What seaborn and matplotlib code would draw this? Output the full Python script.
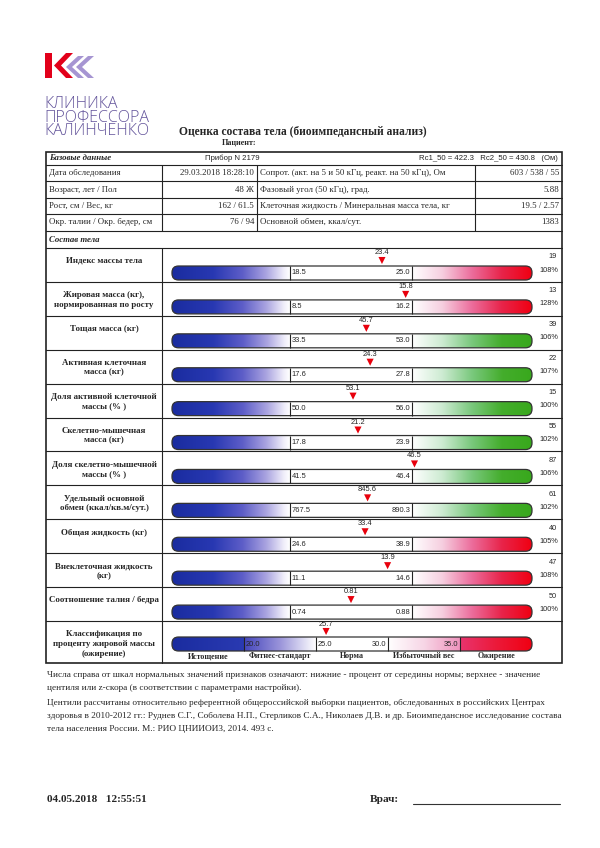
import numpy as np
import matplotlib.pyplot as plt
import seaborn as sns
from matplotlib.colors import LinearSegmentedColormap
from matplotlib.patches import FancyBboxPatch, Polygon, Rectangle

sns.set_theme(style="white")
plt.rcParams['font.family'] = ['Liberation Serif', 'DejaVu Serif']
SANS = ['Liberation Sans', 'DejaVu Sans']

# --- base data table ---
base_left = ["Дата обследования", "Возраст, лет / Пол", "Рост, см / Вес, кг",
             "Окр. талии / Окр. бедер, см"]
base_left_vals = ["29.03.2018 18:28:10", "48 Ж", "162 / 61.5", "76 / 94"]
base_right = ["Сопрот. (акт. на 5 и 50 кГц, реакт. на 50 кГц), Ом",
              "Фазовый угол (50 кГц), град.",
              "Клеточная жидкость / Минеральная масса тела, кг",
              "Основной обмен, ккал/сут."]
base_right_vals = ["603 / 538 / 55", "5.88", "19.5 / 2.57", "1383"]

# --- body composition scales ---
labels = ["Индекс массы тела",
          "Жировая масса (кг),\nнормированная по росту",
          "Тощая масса (кг)",
          "Активная клеточная\nмасса (кг)",
          "Доля активной клеточной\nмассы (% )",
          "Скелетно-мышечная\nмасса (кг)",
          "Доля скелетно-мышечной\nмассы (% )",
          "Удельный основной\nобмен (ккал/кв.м/сут.)",
          "Общая жидкость (кг)",
          "Внеклеточная жидкость\n(кг)",
          "Соотношение талия / бедра"]
values = [23.4, 15.8, 45.7, 24.3, 53.1, 21.2, 46.5, 845.6, 33.4, 13.9, 0.81]
low = [18.5, 8.5, 33.5, 17.6, 50.0, 17.8, 41.5, 767.5, 24.6, 11.1, 0.74]
high = [25.0, 16.2, 53.0, 27.8, 56.0, 23.9, 46.4, 890.3, 38.9, 14.6, 0.88]
decimals = [1, 1, 1, 1, 1, 1, 1, 1, 1, 1, 2]
centile = [19, 13, 39, 22, 15, 55, 87, 61, 40, 47, 50]
percent = [108, 128, 106, 107, 100, 102, 106, 102, 105, 108, 100]
upper_kind = ["red", "red", "green", "green", "green", "green", "green",
              "green", "red", "red", "red"]

# --- fat percentage classification ---
fat_value = 25.7
fat_bounds = [20.0, 25.0, 30.0, 35.0]
fat_classes = ["Истощение", "Фитнес-стандарт", "Норма", "Избыточный вес", "Ожирение"]

cm_blue = LinearSegmentedColormap.from_list(
    "b", [(0, "#1a2c9f"), (0.35, "#2838b2"), (0.6, "#5e5ec8"), (0.8, "#aaa4e0"),
          (0.95, "#f0eefa"), (1, "#ffffff")])
cm_red = LinearSegmentedColormap.from_list(
    "r", ["#ffffff", "#f6cfe0", "#ec6d9c", "#e8244a", "#f00012"])
cm_green = LinearSegmentedColormap.from_list(
    "g", ["#ffffff", "#cdebd2", "#79c87c", "#44ad2c", "#38a81c"])
cmaps = {"red": cm_red, "green": cm_green}
grad = np.linspace(0, 1, 256)[None, :]

W, H = 600, 848
fig = plt.figure(figsize=(6, 8.48), dpi=100)
page = fig.add_axes([0, 0, 1, 1])
page.set_xlim(0, W)
page.set_ylim(H, 0)
page.axis('off')


def px_axes(x0, y0, x1, y1):
    a = fig.add_axes([x0 / W, 1 - y1 / H, (x1 - x0) / W, (y1 - y0) / H])
    a.axis('off')
    return a


# logo
page.add_patch(Rectangle((45, 53), 7, 25, color="#e2001a", lw=0))
def chevron(xt, w, t, y0, y1, c):
    yc = (y0 + y1) / 2
    page.add_patch(Polygon([(xt, yc), (xt + w, y0), (xt + w + t, y0), (xt + t, yc),
                            (xt + w + t, y1), (xt + w, y1)], closed=True, color=c, lw=0))
chevron(54, 12, 7, 53, 78, "#e2001a")
chevron(66, 12, 6, 56, 78, "#a695d2")
chevron(76, 12, 6, 56, 78, "#a695d2")
page.text(44, 96, "КЛИНИКА\nПРОФЕССОРА\nКАЛИНЧЕНКО", family=['Open Sans', 'DejaVu Sans'],
          weight='light', size=11.5, color="#62539a", va='top', ha='left',
          linespacing=0.8)

page.text(303, 131, "Оценка состава тела (биоимпедансный анализ)", ha='center',
          va='center', weight='bold', size=8.3)
page.text(222, 143, "Пациент:", ha='left', va='center', weight='bold', size=5.8)

# table frame
L, R = 46, 562
TOP, BOT = 152, 663
hdr = [152, 165, 181, 198, 214, 231, 248]
ROW_H = (621 - 248) / 11
page.add_patch(Rectangle((L, TOP), R - L, BOT - TOP, fc='none', ec='#222', lw=1.2))
for y in hdr[1:]:
    page.plot([L, R], [y, y], color='#222', lw=0.8)
for i in range(1, 12):
    y = 248 + i * ROW_H
    page.plot([L, R], [y, y], color='#222', lw=0.8)
page.plot([162, 162], [165, 231], color='#222', lw=0.8)
page.plot([162, 162], [248, BOT], color='#222', lw=0.8)
page.plot([257, 257], [165, 231], color='#222', lw=0.8)
page.plot([475, 475], [165, 231], color='#222', lw=0.8)

page.text(49, 158.5, "Базовые данные", weight='bold', style='italic', size=6.3, va='center')
page.text(205, 158.5, "Прибор N 2179", family=SANS, size=5.6, va='center')
page.text(558, 158.5, "Rc1_50 = 422.3   Rc2_50 = 430.8   (Ом)", family=SANS, size=5.6,
          va='center', ha='right')
for j in range(4):
    yc = (hdr[j + 1] + hdr[j + 2]) / 2
    page.text(49, yc, base_left[j], size=6.3, va='center')
    page.text(254, yc, base_left_vals[j], size=6.3, va='center', ha='right')
    page.text(260, yc, base_right[j], size=6.3, va='center')
    page.text(559, yc, base_right_vals[j], size=6.3, va='center', ha='right')
page.text(49, 239.5, "Состав тела", weight='bold', style='italic', size=6.3, va='center')

# scale rows
BX0, BX1, MID0, MID1 = 172, 532, 290, 412
for i, lab in enumerate(labels):
    top = 248 + i * ROW_H
    ly = top + (18 if "\n" in lab else 12.5)
    page.text(104, ly, lab, ha='center', va='center', weight='bold', size=6.4,
              linespacing=1.3)
    page.text(557, top + 9, str(centile[i]), family=SANS, size=5.3, ha='right', va='center')
    page.text(558, top + 22, f"{percent[i]}%", family=SANS, size=5.3, ha='right', va='center')

    ax = px_axes(BX0, top, BX1, top + ROW_H)
    span = high[i] - low[i]
    k = span / (MID1 - MID0)
    xmin = low[i] - (MID0 - BX0) * k
    xmax = high[i] + (BX1 - MID1) * k
    shape = FancyBboxPatch((xmin, 18), xmax - xmin, 14,
                           boxstyle=f"round,pad=0,rounding_size={6.5 * k}",
                           mutation_aspect=1 / k, fc='none', ec='#333', lw=0.9,
                           zorder=5, clip_on=False)
    ax.add_patch(shape)
    im1 = ax.imshow(grad, cmap=cm_blue, extent=[xmin, low[i], 32, 18], aspect='auto', zorder=1)
    im1.set_clip_path(shape)
    im2 = ax.imshow(grad, cmap=cmaps[upper_kind[i]], extent=[high[i], xmax, 32, 18],
                    aspect='auto', zorder=1)
    im2.set_clip_path(shape)
    ax.vlines([low[i], high[i]], 18, 32, color='#222', lw=0.8, zorder=6)
    d = decimals[i]
    ax.text(low[i] + 1.5 * k, 25, f"{low[i]:.{d}f}", family=SANS, size=5.4, va='center')
    ax.text(high[i] - 1.5 * k, 25, f"{high[i]:.{d}f}", family=SANS, size=5.4, va='center',
            ha='right')
    sns.scatterplot(x=[values[i]], y=[12.5], marker='v', s=26, color='#e8000c',
                    edgecolor='none', ax=ax, legend=False, zorder=7)
    ax.text(values[i], 4.5, f"{values[i]:.{d}f}", family=SANS, size=5.4, ha='center',
            va='center')
    ax.set_xlim(xmin, xmax)
    ax.set_ylim(ROW_H, 0)
    ax.axis('off')

# fat classification row
top = 248 + 11 * ROW_H
page.text(104, top + 23, "Классификация по\nпроценту жировой массы\n(ожирение)", ha='center',
          va='center', weight='bold', size=6.4, linespacing=1.3)
ax = px_axes(BX0, top, BX1, BOT)
step = fat_bounds[1] - fat_bounds[0]
edges = [fat_bounds[0] - step] + fat_bounds + [fat_bounds[-1] + step]
k = (edges[-1] - edges[0]) / (BX1 - BX0)
shape = FancyBboxPatch((edges[0], 16), edges[-1] - edges[0], 14,
                       boxstyle=f"round,pad=0,rounding_size={6.5 * k}",
                       mutation_aspect=1 / k, fc='none', ec='#333', lw=0.9,
                       zorder=5, clip_on=False)
ax.add_patch(shape)
seg_maps = [LinearSegmentedColormap.from_list("s0", ["#1a2c9f", "#2a3ab2"]),
            LinearSegmentedColormap.from_list("s1", ["#4446bc", "#9a94da", "#ffffff"]),
            LinearSegmentedColormap.from_list("s2", ["#ffffff", "#ffffff"]),
            LinearSegmentedColormap.from_list("s3", ["#ffffff", "#f7d6e6", "#ef93bd"]),
            LinearSegmentedColormap.from_list("s4", ["#e9346e", "#ec1a3a", "#f00012"])]
for j in range(5):
    im = ax.imshow(grad, cmap=seg_maps[j], extent=[edges[j], edges[j + 1], 30, 16],
                   aspect='auto', zorder=1)
    im.set_clip_path(shape)
    ax.text((edges[j] + edges[j + 1]) / 2, 35.5, fat_classes[j], ha='center', va='center',
            weight='bold', size=5.8)
ax.vlines(fat_bounds, 16, 30, color='#222', lw=0.8, zorder=6)
for j, b in enumerate(fat_bounds):
    if j < 2:
        ax.text(b + 0.12, 23, f"{b:.1f}", family=SANS, size=5.4, va='center')
    else:
        ax.text(b - 0.12, 23, f"{b:.1f}", family=SANS, size=5.4, va='center', ha='right')
sns.scatterplot(x=[fat_value], y=[10.5], marker='v', s=26, color='#e8000c',
                edgecolor='none', ax=ax, legend=False, zorder=7)
ax.text(fat_value, 4, f"{fat_value:.1f}", family=SANS, size=5.4, ha='center', va='center')
ax.set_xlim(edges[0], edges[-1])
ax.set_ylim(BOT - top, 0)
ax.axis('off')

# notes
notes = ["Числа справа от шкал нормальных значений признаков означают: нижние - процент от середины нормы; верхнее - значение",
         "центиля или z-скора (в соответствии с параметрами настройки).",
         "Центили рассчитаны относительно референтной общероссийской выборки пациентов, обследованных в российских Центрах",
         "здоровья в 2010-2012 гг.: Руднев С.Г., Соболева Н.П., Стерликов С.А., Николаев Д.В. и др. Биоимпедансное исследование состава",
         "тела населения России. М.: РИО ЦНИИОИЗ, 2014. 493 с."]
note_y = [675, 688, 703, 716, 729]
for t, y in zip(notes, note_y):
    page.text(47, y, t, size=6.7, va='center')

page.text(47, 800, "04.05.2018   12:55:51", weight='bold', size=8.1, va='center')
page.text(370, 800, "Врач:", weight='bold', size=8.1, va='center')
page.plot([413, 560], [804, 804], color='#333', lw=0.8)

fig.savefig("out.png", dpi=100)
